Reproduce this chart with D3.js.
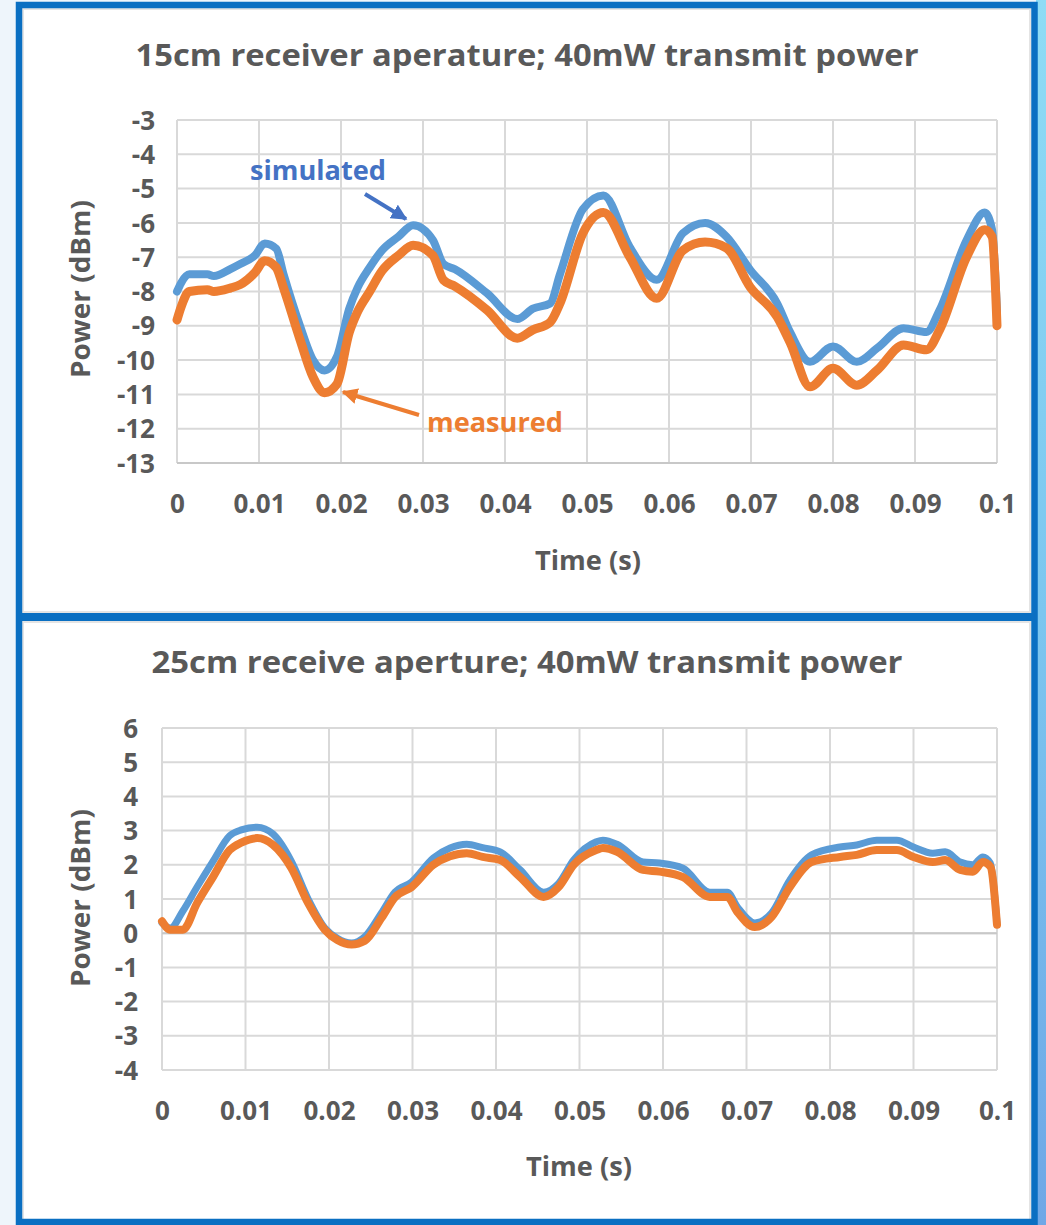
<!DOCTYPE html>
<html><head><meta charset="utf-8">
<script src="https://cdn.jsdelivr.net/npm/d3@7"></script>
<style>
html,body{margin:0;padding:0;background:#eef5fb;}
svg{display:block;}
text{font-family:"Open Sans","Noto Sans",sans-serif;}
</style></head>
<body>
<svg id="c" width="1046" height="1225"></svg>
<script>
// ---------- DATA ----------
const xTicks = [0,0.01,0.02,0.03,0.04,0.05,0.06,0.07,0.08,0.09,0.1];
const xTickLabels = ["0","0.01","0.02","0.03","0.04","0.05","0.06","0.07","0.08","0.09","0.1"];

const topTitle = "15cm receiver aperature; 40mW transmit power";
const topYTicks = [-3,-4,-5,-6,-7,-8,-9,-10,-11,-12,-13];
const topTime = [0,0.0005,0.0015,0.0037,0.0045,0.0065,0.0077,0.0095,0.0107,0.0121,
  0.013,0.015,0.0166,0.018,0.0195,0.021,0.022,0.0235,0.025,0.027,
  0.0288,0.0312,0.0325,0.0339,0.0378,0.0415,0.0434,0.0455,0.0467,0.0495,
  0.052,0.0552,0.0585,0.0617,0.0644,0.067,0.0699,0.0732,0.0748,0.0772,
  0.080,0.0829,0.0854,0.0886,0.0914,0.093,0.0963,0.0985,0.0994,0.1];
const topSimulated = [-8.0,-7.75,-7.5,-7.5,-7.55,-7.35,-7.2,-6.95,-6.6,-6.75,
  -7.5,-9.0,-10.0,-10.3,-9.9,-8.5,-7.9,-7.3,-6.8,-6.4,
  -6.07,-6.5,-7.2,-7.35,-8.05,-8.8,-8.5,-8.35,-7.5,-5.6,
  -5.2,-6.7,-7.66,-6.3,-6.0,-6.4,-7.37,-8.35,-9.2,-10.05,
  -9.6,-10.05,-9.65,-9.07,-9.18,-8.54,-6.5,-5.7,-6.2,-8.6];
const topMeasured = [-8.83,-8.45,-8.0,-7.95,-8.0,-7.9,-7.8,-7.45,-7.1,-7.3,
  -7.9,-9.4,-10.5,-10.95,-10.7,-9.2,-8.6,-8.0,-7.4,-6.95,
  -6.65,-6.95,-7.67,-7.85,-8.54,-9.36,-9.12,-8.9,-8.35,-6.3,
  -5.7,-6.99,-8.2,-6.8,-6.56,-6.73,-7.87,-8.74,-9.5,-10.78,
  -10.24,-10.73,-10.29,-9.56,-9.7,-9.12,-6.99,-6.2,-6.4,-9.0];

const bottomTitle = "25cm receive aperture; 40mW transmit power";
const bottomYTicks = [6,5,4,3,2,1,0,-1,-2,-3,-4];
const bottomTime = [0,0.001,0.0025,0.0042,0.0061,0.0081,0.0095,0.0114,0.0133,0.0155,
  0.0175,0.0195,0.021,0.0227,0.0243,0.0263,0.0279,0.0299,0.0325,0.0345,
  0.0365,0.0384,0.0405,0.0429,0.0457,0.0475,0.0493,0.052,0.0528,0.0545,
  0.0576,0.0596,0.0624,0.0656,0.0677,0.0689,0.071,0.073,0.0752,0.0778,
  0.0812,0.0832,0.0856,0.088,0.09,0.0923,0.0938,0.0956,0.0971,0.0983,
  0.0992,0.1];
const bottomSimulated = [0.3,0.15,0.65,1.35,2.1,2.85,3.02,3.1,2.9,2.1,
  1.0,0.15,-0.15,-0.29,-0.1,0.6,1.2,1.5,2.2,2.49,
  2.6,2.5,2.38,1.85,1.2,1.46,2.14,2.67,2.72,2.6,
  2.08,2.05,1.9,1.2,1.2,0.77,0.3,0.59,1.56,2.29,
  2.52,2.58,2.72,2.72,2.52,2.34,2.38,2.08,2.0,2.23,
  2.05,0.3];
const bottomMeasured = [0.35,0.1,0.1,0.88,1.64,2.43,2.65,2.78,2.58,1.9,
  0.88,0.1,-0.2,-0.33,-0.22,0.45,1.05,1.35,2.0,2.25,
  2.34,2.23,2.14,1.64,1.06,1.35,2.0,2.43,2.49,2.38,
  1.85,1.8,1.64,1.06,1.06,0.62,0.18,0.47,1.35,2.08,
  2.23,2.29,2.43,2.43,2.23,2.08,2.14,1.85,1.8,2.08,
  1.95,0.25];

const seriesNames = ["simulated","measured"];
// ---------- STYLE ----------
const textColor = "#595959", gridColor = "#d9d9d9";
const simColor = "#5b9bd5", measColor = "#ed7d31";
const frameColor = "#0a6fc2";

const svg = d3.select("#c");
// background
const defs = svg.append("defs");
const g1 = defs.append("linearGradient").attr("id","bgR").attr("x1",0).attr("y1",0).attr("x2",0).attr("y2",1);
g1.append("stop").attr("offset","0%").attr("stop-color","#8fdcf5");
g1.append("stop").attr("offset","50%").attr("stop-color","#7cc6ef");
g1.append("stop").attr("offset","100%").attr("stop-color","#6fa7e6");
svg.append("rect").attr("width",1046).attr("height",1225).attr("fill","#eef5fb");
svg.append("rect").attr("x",1036).attr("width",10).attr("height",1225).attr("fill","url(#bgR)");
// panels
svg.append("rect").attr("x",19).attr("y",5).attr("width",1015.5).attr("height",1220).attr("fill","#fff");
svg.append("rect").attr("x",23).attr("y",9).attr("width",1007).attr("height",603).attr("fill","none").attr("stroke","#e4e4e4").attr("stroke-width",2);
svg.append("rect").attr("x",23).attr("y",622).attr("width",1007).attr("height",598).attr("fill","none").attr("stroke","#e4e4e4").attr("stroke-width",2);
svg.append("rect").attr("x",19).attr("y",5).attr("width",1015.5).attr("height",1217).attr("fill","none").attr("stroke",frameColor).attr("stroke-width",6.5);
svg.append("line").attr("x1",19).attr("x2",1034.5).attr("y1",617).attr("y2",617).attr("stroke",frameColor).attr("stroke-width",8);

function drawChart(cfg){
  const x = d3.scaleLinear().domain([0,0.1]).range([cfg.x0,cfg.x1]);
  const y = d3.scaleLinear().domain(cfg.yDomain).range([cfg.y1,cfg.y0]);
  const g = svg.append("g");
  // grid
  g.selectAll(".hg").data(cfg.yTicks).join("line")
    .attr("x1",cfg.x0).attr("x2",cfg.x1).attr("y1",d=>y(d)).attr("y2",d=>y(d))
    .attr("stroke",gridColor).attr("stroke-width",2);
  g.selectAll(".vg").data(xTicks).join("line")
    .attr("y1",cfg.y0).attr("y2",cfg.y1).attr("x1",d=>x(d)).attr("x2",d=>x(d))
    .attr("stroke",gridColor).attr("stroke-width",2);
  // baseline axis
  g.append("line").attr("x1",cfg.x0).attr("x2",cfg.x1).attr("y1",y(cfg.axisAt)).attr("y2",y(cfg.axisAt))
    .attr("stroke","#c8c8c8").attr("stroke-width",2);
  // axes (labels only)
  const yAxis = d3.axisLeft(y).tickValues(cfg.yTicks).tickSize(0).tickPadding(cfg.yPad).tickFormat(d=>String(d));
  const ya = g.append("g").attr("transform",`translate(${cfg.x0},0)`).call(yAxis);
  ya.select(".domain").remove();
  ya.selectAll("text").attr("fill",textColor).attr("font-size",26).attr("font-weight",700)
    .attr("font-family","'Open Sans',sans-serif").attr("dy","0.35em");
  const xAxis = d3.axisBottom(x).tickValues(xTicks).tickSize(0).tickPadding(cfg.xPad).tickFormat((d,i)=>xTickLabels[i]);
  const xa = g.append("g").attr("transform",`translate(0,${cfg.y1})`).call(xAxis);
  xa.select(".domain").remove();
  xa.selectAll("text").attr("fill",textColor).attr("font-size",26).attr("font-weight",700)
    .attr("font-family","'Open Sans',sans-serif");
  // lines
  const line = d3.line().x(d=>x(d[0])).y(d=>y(d[1])).curve(d3.curveMonotoneX);
  const simData = cfg.time.map((t,i)=>[t,cfg.sim[i]]);
  const measData = cfg.time.map((t,i)=>[t,cfg.meas[i]]);
  g.append("path").datum(simData).attr("d",line).attr("fill","none")
    .attr("stroke",simColor).attr("stroke-width",cfg.lw).attr("stroke-linejoin","round").attr("stroke-linecap","round");
  g.append("path").datum(measData).attr("d",line).attr("fill","none")
    .attr("stroke",measColor).attr("stroke-width",cfg.lw+1).attr("stroke-linejoin","round").attr("stroke-linecap","round");
  // titles
  g.append("text").attr("x",cfg.titleX).attr("y",cfg.titleY).attr("text-anchor","middle")
    .attr("fill",textColor).attr("font-size",30).attr("font-weight",700)
    .attr("textLength",cfg.titleW).attr("lengthAdjust","spacingAndGlyphs").text(cfg.title);
  g.append("text").attr("transform",`translate(${cfg.yTitleX},${cfg.yTitleY}) rotate(-90)`)
    .attr("text-anchor","middle").attr("fill",textColor).attr("font-size",26).attr("font-weight",700)
    .attr("textLength",178).attr("lengthAdjust","spacingAndGlyphs").text("Power (dBm)");
  g.append("text").attr("x",cfg.xTitleX).attr("y",cfg.xTitleY).attr("text-anchor","middle")
    .attr("fill",textColor).attr("font-size",26).attr("font-weight",700)
    .attr("textLength",106).attr("lengthAdjust","spacingAndGlyphs").text("Time (s)");
  return {x,y,g};
}

const topChart = drawChart({x0:177,x1:997,y0:120,y1:463,yDomain:[-13,-3],yTicks:topYTicks,axisAt:-13,
  yPad:22,xPad:32,time:topTime,sim:topSimulated,meas:topMeasured,lw:8,
  title:topTitle,titleX:527,titleY:66,titleW:783,yTitleX:90,yTitleY:289,xTitleX:588,xTitleY:570});
const bottomChart = drawChart({x0:162,x1:997,y0:728,y1:1070,yDomain:[-4,6],yTicks:bottomYTicks,axisAt:0,
  yPad:24,xPad:32,time:bottomTime,sim:bottomSimulated,meas:bottomMeasured,lw:7,
  title:bottomTitle,titleX:527,titleY:673,titleW:751,yTitleX:90,yTitleY:898,xTitleX:579,xTitleY:1176});

// annotations (top chart)
defs.append("marker").attr("id","aB").attr("viewBox","0 0 10 10").attr("refX",9).attr("refY",5)
  .attr("markerWidth",4).attr("markerHeight",4).attr("orient","auto")
  .append("path").attr("d","M0,0L10,5L0,10z").attr("fill","#4472c4");
defs.append("marker").attr("id","aO").attr("viewBox","0 0 10 10").attr("refX",9).attr("refY",5)
  .attr("markerWidth",4).attr("markerHeight",4).attr("orient","auto")
  .append("path").attr("d","M0,0L10,5L0,10z").attr("fill",measColor);
const ann = topChart.g;
ann.append("text").attr("x",250).attr("y",180).attr("fill","#4472c4").attr("font-size",26).attr("font-weight",700)
  .attr("textLength",136).attr("lengthAdjust","spacingAndGlyphs").text(seriesNames[0]);
ann.append("line").attr("x1",365).attr("y1",194).attr("x2",406).attr("y2",219)
  .attr("stroke","#4472c4").attr("stroke-width",4).attr("marker-end","url(#aB)");
ann.append("text").attr("x",427).attr("y",432).attr("fill",measColor).attr("font-size",26).attr("font-weight",700)
  .attr("textLength",136).attr("lengthAdjust","spacingAndGlyphs").text(seriesNames[1]);
ann.append("line").attr("x1",419).attr("y1",415).attr("x2",343).attr("y2",392)
  .attr("stroke",measColor).attr("stroke-width",4).attr("marker-end","url(#aO)");
</script>
</body></html>
